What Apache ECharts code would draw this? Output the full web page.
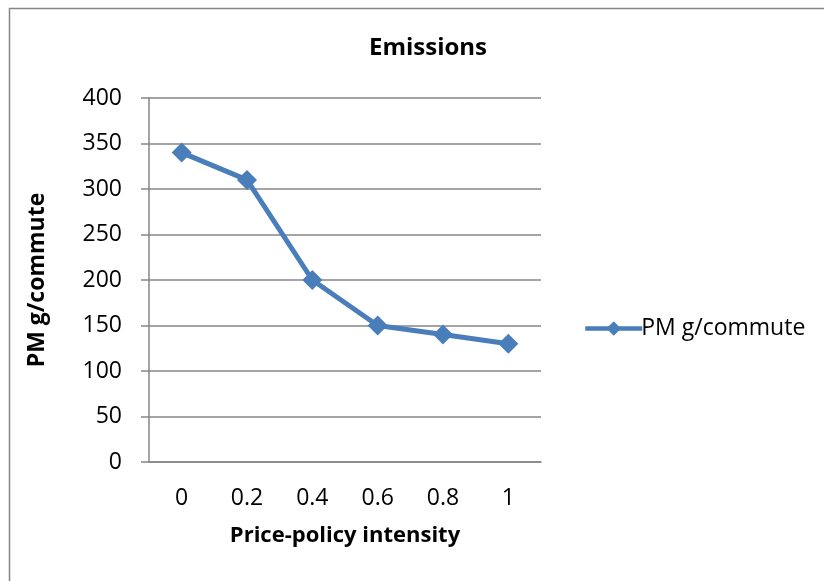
<!DOCTYPE html>
<html>
<head>
<meta charset="utf-8">
<script src="https://cdn.jsdelivr.net/npm/echarts@6/dist/echarts.min.js"></script>
<style>html,body{margin:0;padding:0;background:#fff}#c{width:824px;height:581px}</style>
</head>
<body>
<div id="c"></div>
<script>
const categories = ['0', '0.2', '0.4', '0.6', '0.8', '1'];
const pmValues = [340, 310, 200, 150, 140, 130];
const yTicks = { min: 0, max: 400, interval: 50 };
const seriesName = 'PM g/commute';

const FONT = '"Open Sans", sans-serif';
const chart = echarts.init(document.getElementById('c'), null, { renderer: 'canvas' });
chart.setOption({
  animation: false,
  backgroundColor: '#ffffff',
  graphic: [{
    type: 'rect', silent: true, z: -1,
    shape: { x: 9.5, y: 8.5, width: 840, height: 620 },
    style: { fill: 'none', stroke: '#868686', lineWidth: 1.5 }
  }],
  title: {
    text: 'Emissions', left: 423, top: 31, textAlign: 'center',
    textStyle: { fontFamily: FONT, fontWeight: 'bold', fontSize: 24, color: '#000' }
  },
  legend: {
    data: [seriesName], left: 578, top: 312, orient: 'vertical',
    itemWidth: 57, itemHeight: 18, itemGap: 4,
    lineStyle: { width: 4.5 },
    textStyle: { fontFamily: FONT, fontSize: 23, color: '#000', padding: [0, 0, 0, -6] }
  },
  grid: { left: 149, top: 98, right: 283, bottom: 119 },
  xAxis: {
    type: 'category', data: categories, boundaryGap: true,
    name: 'Price-policy intensity', nameLocation: 'middle', nameGap: 63,
    nameTextStyle: { fontFamily: FONT, fontWeight: 'bold', fontSize: 22, color: '#000' },
    axisLine: { lineStyle: { color: '#868686', width: 1.5 } },
    axisTick: { show: false },
    axisLabel: { fontFamily: FONT, fontSize: 23, color: '#000', margin: 25 }
  },
  yAxis: {
    type: 'value', min: yTicks.min, max: yTicks.max, interval: yTicks.interval,
    name: seriesName, nameLocation: 'middle', nameGap: 100,
    nameTextStyle: { fontFamily: FONT, fontWeight: 'bold', fontSize: 23, color: '#000' },
    axisLine: { show: true, lineStyle: { color: '#868686', width: 1.5 } },
    axisTick: { show: true, length: 8, lineStyle: { color: '#868686', width: 1.5 } },
    splitLine: { lineStyle: { color: '#868686', width: 1.5 } },
    axisLabel: { fontFamily: FONT, fontSize: 23, color: '#000', margin: 27 }
  },
  series: [{
    name: seriesName, type: 'line', data: pmValues,
    symbol: 'diamond', symbolSize: 20,
    lineStyle: { color: '#4a7ebb', width: 5 },
    itemStyle: { color: '#4a7ebb' }
  }]
});
</script>
</body>
</html>
